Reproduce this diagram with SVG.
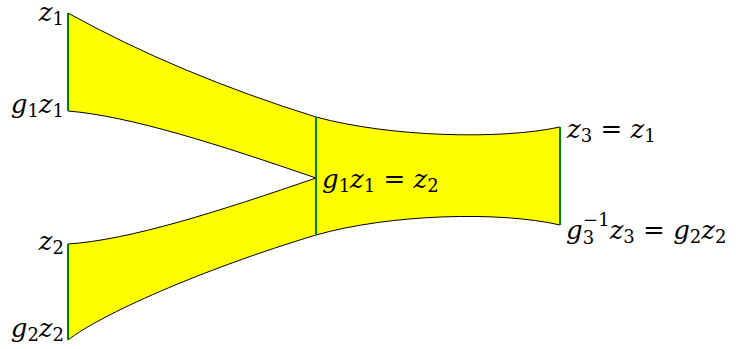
<svg xmlns="http://www.w3.org/2000/svg" width="736" height="349" viewBox="0 0 736 349">
<style>
.lbl{font-family:"DejaVu Serif","Liberation Serif",serif;font-size:26px;fill:#000}
.it{font-style:italic}
.sub{font-size:18px}
.edge{stroke:#008000;stroke-width:2;fill:none}
</style>
<rect width="736" height="349" fill="#fff"/>
<g id="surface">
<path d="M68,13 Q178,74 316,117 C390,137 500,140 560,127 L560,225 C500,211 390,214 316,235 C200,270 100,315 68,340 L68,244 C130,240 220,211 316,178 C220,145 130,116 68,111 Z" fill="#ffff00" stroke="#000" stroke-width="1"/>
</g>
<g id="connectors">
<line class="edge" x1="68" y1="13" x2="68" y2="111"/>
<line class="edge" x1="68" y1="244" x2="68" y2="340"/>
<line class="edge" x1="316" y1="117" x2="316" y2="235"/>
<line class="edge" x1="560" y1="127" x2="560" y2="225"/>
</g>
<g id="label-z1"><text class="lbl" x="64" y="21" text-anchor="end"><tspan class="it">z</tspan><tspan class="sub" dy="4">1</tspan></text></g>
<g id="label-g1z1"><text class="lbl" x="64" y="113" text-anchor="end"><tspan class="it">g</tspan><tspan class="sub" dy="4">1</tspan><tspan class="it" dy="-4">z</tspan><tspan class="sub" dy="4">1</tspan></text></g>
<g id="label-z2"><text class="lbl" x="64" y="250" text-anchor="end"><tspan class="it">z</tspan><tspan class="sub" dy="4">2</tspan></text></g>
<g id="label-g2z2"><text class="lbl" x="64" y="337" text-anchor="end"><tspan class="it">g</tspan><tspan class="sub" dy="4">2</tspan><tspan class="it" dy="-4">z</tspan><tspan class="sub" dy="4">2</tspan></text></g>
<g id="label-mid"><text class="lbl" x="322" y="188"><tspan class="it">g</tspan><tspan class="sub" dy="4">1</tspan><tspan class="it" dy="-4">z</tspan><tspan class="sub" dy="4">1</tspan><tspan dy="-4" xml:space="preserve"> = </tspan><tspan class="it">z</tspan><tspan class="sub" dy="4">2</tspan></text></g>
<g id="label-z3"><text class="lbl" x="567" y="138"><tspan class="it">z</tspan><tspan class="sub" dy="4">3</tspan><tspan dy="-4" xml:space="preserve"> = </tspan><tspan class="it">z</tspan><tspan class="sub" dy="4">1</tspan></text></g>
<g id="label-g3"><text class="lbl" x="566" y="239"><tspan class="it">g</tspan><tspan class="sub" dy="5">3</tspan><tspan class="sub" dx="-11" dy="-18">−1</tspan><tspan class="it" dy="13">z</tspan><tspan class="sub" dy="4">3</tspan><tspan dy="-4" xml:space="preserve"> = </tspan><tspan class="it">g</tspan><tspan class="sub" dy="4">2</tspan><tspan class="it" dy="-4">z</tspan><tspan class="sub" dy="4">2</tspan></text></g>
</svg>
